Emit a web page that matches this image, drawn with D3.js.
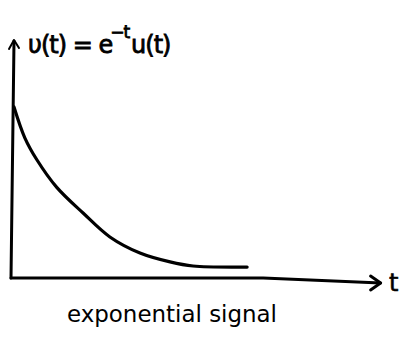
<!DOCTYPE html>
<html>
<head>
<meta charset="utf-8">
<script src="https://cdn.jsdelivr.net/npm/d3@7"></script>
<style>
  html, body { margin: 0; padding: 0; background: #fff; }
  svg { display: block; }
  text { font-family: "DejaVu Sans", sans-serif; fill: #000; }
</style>
</head>
<body>
<svg id="chart" width="401" height="343"></svg>
<script>
// Sampled decay of v(t) = e^{-t} u(t), as sketched
const tValues = [0, 0.23, 0.49, 0.91, 1.47, 2.04, 2.68, 3.32, 3.81, 4.96];
const vValues = [1.0, 0.82, 0.69, 0.53, 0.38, 0.24, 0.146, 0.094, 0.07, 0.064];
const titleParts = ["υ(t) = e", "−t", "u(t)"];
const axisLabel = "t";
const caption = "exponential signal";

const svg = d3.select("#chart");
const ink = "#000";

const x = d3.scaleLinear().domain([0, 8]).range([14, 390]);
const y = d3.scaleLinear().domain([0, 1]).range([278, 107]);

// vertical axis with open arrowhead
svg.append("line")
  .attr("x1", x(0) - 3).attr("y1", y(0))
  .attr("x2", x(0)).attr("y2", 41)
  .attr("stroke", ink).attr("stroke-width", 3).attr("stroke-linecap", "round");
svg.append("path")
  .attr("d", `M${x(0) - 5},${49} L${x(0)},${40} L${x(0) + 5},${48}`)
  .attr("fill", "none").attr("stroke", ink).attr("stroke-width", 2)
  .attr("stroke-linecap", "round").attr("stroke-linejoin", "round");

// horizontal axis, drooping slightly toward the arrow
svg.append("path")
  .attr("d", `M${x(0) - 3},${y(0)} L${x(5.3)},${y(0)} L${x(7.8)},${283}`)
  .attr("fill", "none").attr("stroke", ink).attr("stroke-width", 3)
  .attr("stroke-linecap", "round").attr("stroke-linejoin", "round");
svg.append("path")
  .attr("d", `M${x(7.8) - 10},${276} L${x(7.8)},${283} L${x(7.8) - 10},${290}`)
  .attr("fill", "none").attr("stroke", ink).attr("stroke-width", 3)
  .attr("stroke-linecap", "round").attr("stroke-linejoin", "round");

svg.append("text")
  .attr("x", 389).attr("y", 291)
  .attr("font-size", 24)
  .attr("stroke", ink).attr("stroke-width", 0.6)
  .text(axisLabel);

// decay curve
const pts = tValues.map((t, i) => [t, vValues[i]]);
svg.append("path")
  .datum(pts)
  .attr("d", d3.line().x(d => x(d[0])).y(d => y(d[1])).curve(d3.curveCatmullRom.alpha(0.5)))
  .attr("fill", "none").attr("stroke", ink).attr("stroke-width", 3.2)
  .attr("stroke-linecap", "round");

// title formula: base text, raised exponent, then the step factor
const title = svg.append("text")
  .attr("x", 28).attr("y", 53)
  .attr("font-size", 24)
  .attr("letter-spacing", -1)
  .attr("stroke", ink).attr("stroke-width", 0.8);
title.append("tspan").text(titleParts[0]);
title.append("tspan").attr("font-size", 17).attr("dy", -15).attr("dx", -2).text(titleParts[1]);
title.append("tspan").attr("dy", 15).attr("dx", 2).text(titleParts[2]);

// caption
svg.append("text")
  .attr("x", 67).attr("y", 322)
  .attr("font-size", 23)
  .attr("textLength", 210)
  .attr("lengthAdjust", "spacingAndGlyphs")
  .text(caption);
</script>
</body>
</html>
